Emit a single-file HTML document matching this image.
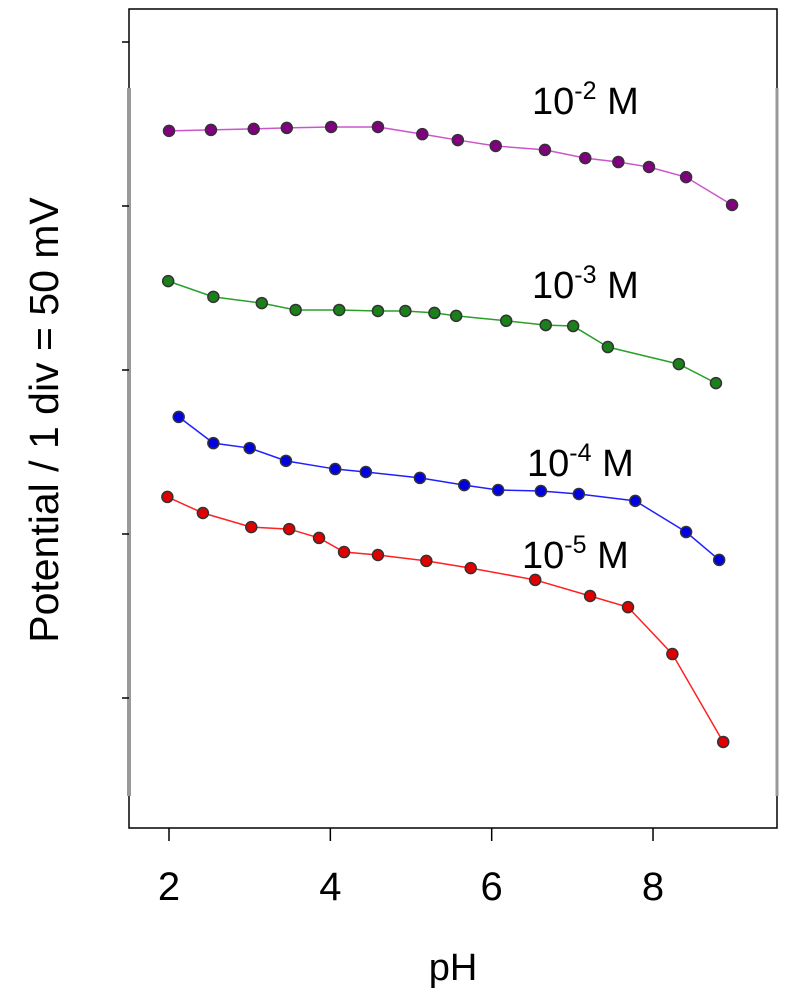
<!DOCTYPE html>
<html><head><meta charset="utf-8"><style>
html,body{margin:0;padding:0;background:#fff;}
svg{display:block;font-family:"Liberation Sans",Arial,sans-serif;}
</style></head><body>
<svg id="chart" width="787" height="1000" viewBox="0 0 787 1000">
<g>
<rect x="129" y="9" width="648" height="819" fill="none" stroke="#000" stroke-width="1.5"/>
<line x1="129" y1="88" x2="129" y2="796" stroke="#999" stroke-width="4"/>
<line x1="777" y1="88" x2="777" y2="796" stroke="#999" stroke-width="3"/>
</g>
<g id="yticks"></g>
<g id="xticks"></g>
<g id="series"></g>
<text x="532" y="114" font-size="38">10<tspan font-size="25" dy="-15">-2</tspan><tspan dy="15"> M</tspan></text>
<text x="532" y="298" font-size="38">10<tspan font-size="25" dy="-15">-3</tspan><tspan dy="15"> M</tspan></text>
<text x="527" y="476" font-size="38">10<tspan font-size="25" dy="-15">-4</tspan><tspan dy="15"> M</tspan></text>
<text x="522" y="568" font-size="38">10<tspan font-size="25" dy="-15">-5</tspan><tspan dy="15"> M</tspan></text>
<text x="453" y="980" font-size="38" text-anchor="middle">pH</text>
<text transform="translate(58,420) rotate(-90)" font-size="41" text-anchor="middle">Potential / 1 div = 50 mV</text>
</svg>
<script>
const xTicks = [2, 4, 6, 8];
const yTicksMv = [0, 50, 100, 150, 200];
const phPurple = [2.00,2.52,3.05,3.46,4.01,4.59,5.14,5.58,6.05,6.66,7.16,7.57,7.95,8.41,8.98];
const mvPurple = [172.9,173.2,173.5,173.8,174.1,174.1,171.9,170.1,168.3,167.1,164.6,163.4,161.9,158.8,150.3];
const phGreen = [1.99,2.55,3.15,3.57,4.11,4.59,4.93,5.29,5.56,6.18,6.67,7.01,7.44,8.32,8.78];
const mvGreen = [127.1,122.3,120.4,118.3,118.3,118.0,118.0,117.4,116.5,115.0,113.7,113.4,107.0,101.8,96.0];
const phBlue = [2.12,2.55,3.00,3.45,4.06,4.44,5.11,5.66,6.08,6.61,7.08,7.78,8.41,8.82];
const mvBlue = [85.7,77.7,76.2,72.3,69.8,68.9,67.1,64.9,63.4,63.1,62.2,60.1,50.6,42.1];
const phRed = [1.98,2.42,3.02,3.49,3.86,4.17,4.59,5.19,5.74,6.54,7.22,7.69,8.24,8.87];
const mvRed = [61.3,56.4,52.1,51.5,48.8,44.5,43.6,41.8,39.6,36.0,31.1,27.7,13.4,-13.4];

const NS = "http://www.w3.org/2000/svg";
function xs(p){ return 169 + (p - 2) * 80.67; }
function ys(v){ return 698 - v / 50 * 164; }
function mk(tag, attrs, parent){
  const e = document.createElementNS(NS, tag);
  for (const k in attrs) e.setAttribute(k, attrs[k]);
  parent.appendChild(e);
  return e;
}
const yg = document.getElementById('yticks');
yTicksMv.forEach(v => {
  const t = mk('line', {x1:122, x2:129, y1:ys(v), y2:ys(v), stroke:'#000', 'stroke-width':1.5}, yg);
  
  
});
const xg = document.getElementById('xticks');
xTicks.forEach(p => {
  const t = mk('line', {x1:xs(p), x2:xs(p), y1:828, y2:841, stroke:'#000', 'stroke-width':1.5}, xg);
  
  
  const l = mk('text', {x:xs(p), y:900, 'font-size':40, 'text-anchor':'middle'}, xg);
  l.textContent = p;
  
  
});
const sg = document.getElementById('series');
[[phPurple, mvPurple, '#cc55cc', '#800080', 'series-1e-2'],
 [phGreen, mvGreen, '#2aa02a', '#1a801a', 'series-1e-3'],
 [phBlue, mvBlue, '#2020ff', '#0000e0', 'series-1e-4'],
 [phRed, mvRed, '#ff2020', '#e00000', 'series-1e-5']].forEach(s => {
  const g = mk('g', {}, sg);
  
  
  const pts = s[0].map((p, i) => xs(p) + ',' + ys(s[1][i])).join(' ');
  const pl = mk('polyline', {points:pts, fill:'none', stroke:s[2], 'stroke-width':1.5}, g);
  
  
  s[0].forEach((p, i) => {
    const c = mk('circle', {cx:xs(p), cy:ys(s[1][i]), r:5.5, fill:s[3], stroke:'#333', 'stroke-width':1.5}, g);
    
    
  });
});
</script>
</body></html>
